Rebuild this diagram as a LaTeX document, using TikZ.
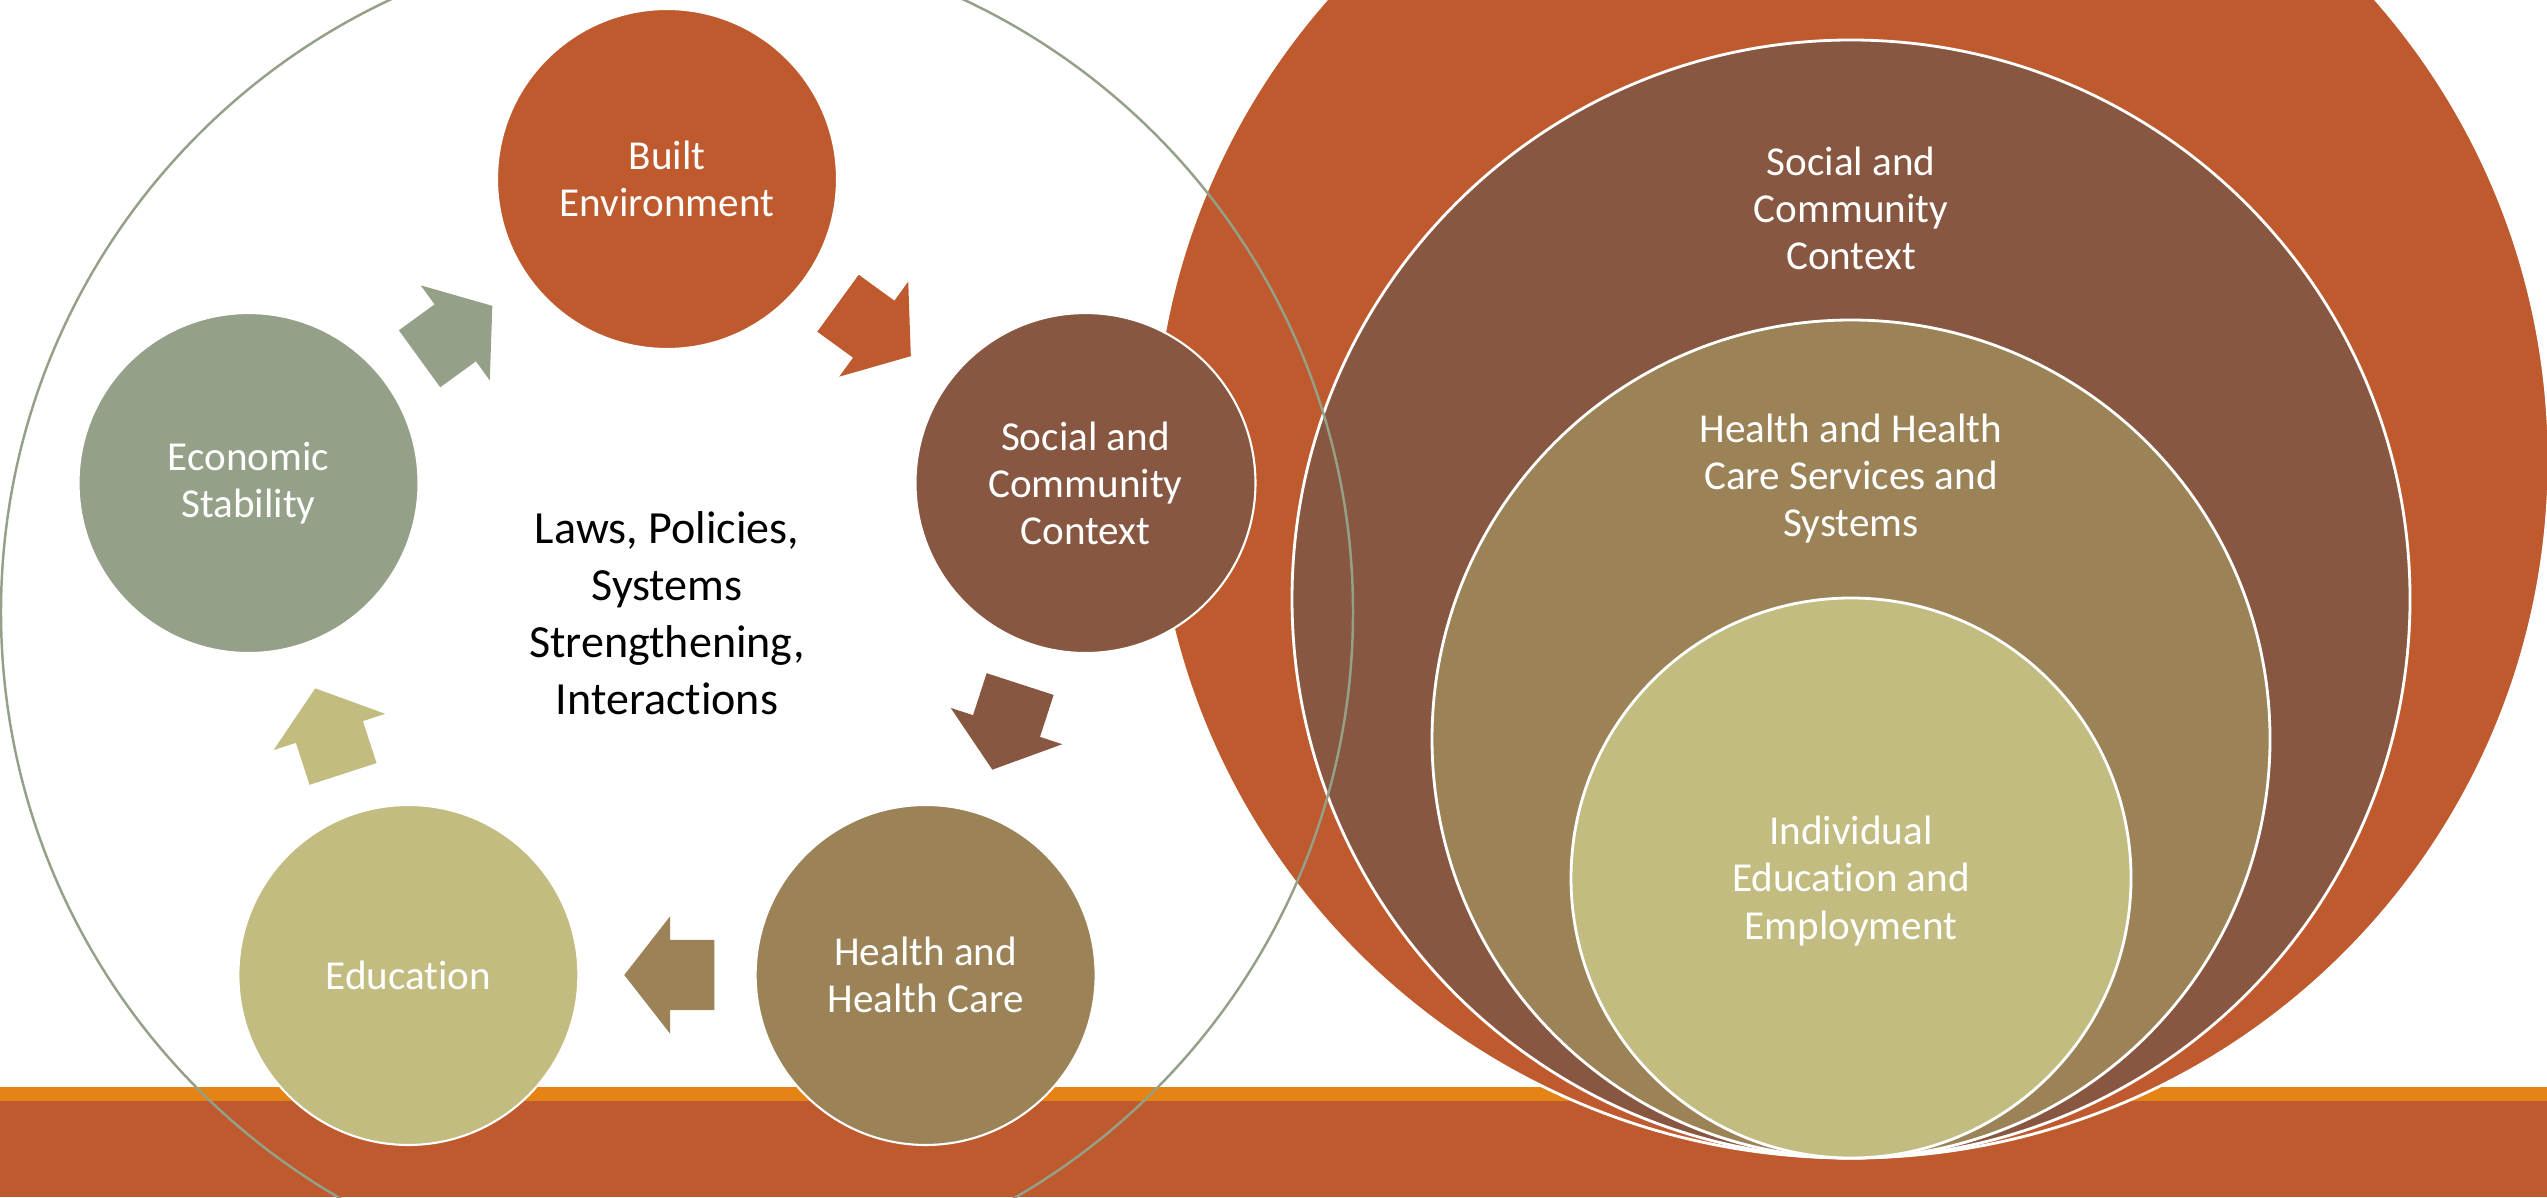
\documentclass[tikz,border=0pt]{standalone}
\usepackage{fontspec}
\setmainfont{Carlito}[Ligatures=NoCommon]
\usetikzlibrary{calc,shapes.arrows,positioning}

\definecolor{rust}{HTML}{BE5A2D}
\definecolor{bark}{HTML}{875741}
\definecolor{tan}{HTML}{9B8357}
\definecolor{straw}{HTML}{C2BC80}
\definecolor{sage}{HTML}{94A088}
\definecolor{amber}{HTML}{E58314}

\tikzset{
  hubcircle/.style={circle, fill=#1, draw=white, line width=0.6pt, minimum size=3.4cm,
    inner sep=0pt, text=white, align=center, font=\fontsize{11.7}{13.4}\selectfont},
  ring/.style={circle, fill=#1, draw=white, line width=0.8pt, inner sep=0pt},
  ringtext/.style={text=white, align=center, font=\fontsize{11.7}{13.4}\selectfont},
  cyclearrow/.style 2 args={single arrow, fill=#1, draw=none, rotate=#2, xshift=-0.16cm,
    inner xsep=0pt, inner ysep=0.345cm, minimum height=0.9cm,
    single arrow head extend=0.235cm, single arrow tip angle=104},
}

\begin{document}
\begin{tikzpicture}
\useasboundingbox (0,0) rectangle (25.47,11.97);
\clip (0,0) rectangle (25.47,11.97);

% band along the bottom
\fill[rust] (0,0) rectangle (25.47,0.96);
\fill[amber] (0,0.96) rectangle (25.47,1.10);

% stacked rings, all touching at the bottom
\coordinate (base) at (18.51,0.39);
\node[ring=rust, minimum size=13.96cm] (outer) at ($(base)+(0,6.98)$) {};
\node[ring=bark, minimum size=11.18cm] (ctxring) at ($(base)+(0,5.59)$) {};
\node[ring=tan, minimum size=8.38cm] (carering) at ($(base)+(0,4.19)$) {};
\node[ring=straw, minimum size=5.6cm] (indring) at ($(base)+(0,2.80)$) {};
\node[ringtext] (ctxtext) at ([yshift=-1.7cm]ctxring.north) {Social and\\Community\\Context};
\node[ringtext] (caretext) at ([yshift=-1.6cm]carering.north) {Health and Health\\Care Services and\\Systems};
\node[ringtext] (indtext) at ([yshift=-0.03cm]indring) {Individual\\Education and\\Employment};

% the cycle
\coordinate (hub) at (6.67,5.78);
\node[hubcircle=rust] (built) at ($(hub)+(90:4.4)$) {Built\\Environment};
\node[hubcircle=bark] (social) at ($(hub)+(18:4.4)$) {Social and\\Community\\Context};
\node[hubcircle=tan] (health) at ($(hub)+(-54:4.4)$) {Health and\\Health Care};
\node[hubcircle=straw] (edu) at ($(hub)+(-126:4.4)$) {Education};
\node[hubcircle=sage] (econ) at ($(hub)+(162:4.4)$) {Economic\\Stability};

\node[cyclearrow={rust}{-36}] (builtarrow) at ($(built)!0.5!(social)$) {};
\node[cyclearrow={bark}{-108}] (socialarrow) at ($(social)!0.5!(health)$) {};
\node[cyclearrow={tan}{180}] (healtharrow) at ($(health)!0.5!(edu)$) {};
\node[cyclearrow={straw}{108}] (eduarrow) at ($(edu)!0.5!(econ)$) {};
\node[cyclearrow={sage}{36}] (econarrow) at ($(econ)!0.5!(built)$) {};

\node[align=center, font=\fontsize{13.1}{16.2}\selectfont] (laws) at ([yshift=0.06cm]hub)
  {Laws, Policies,\\Systems\\Strengthening,\\Interactions};

\draw[sage, line width=0.7pt] (6.77,5.85) circle (6.76);
\end{tikzpicture}
\end{document}
